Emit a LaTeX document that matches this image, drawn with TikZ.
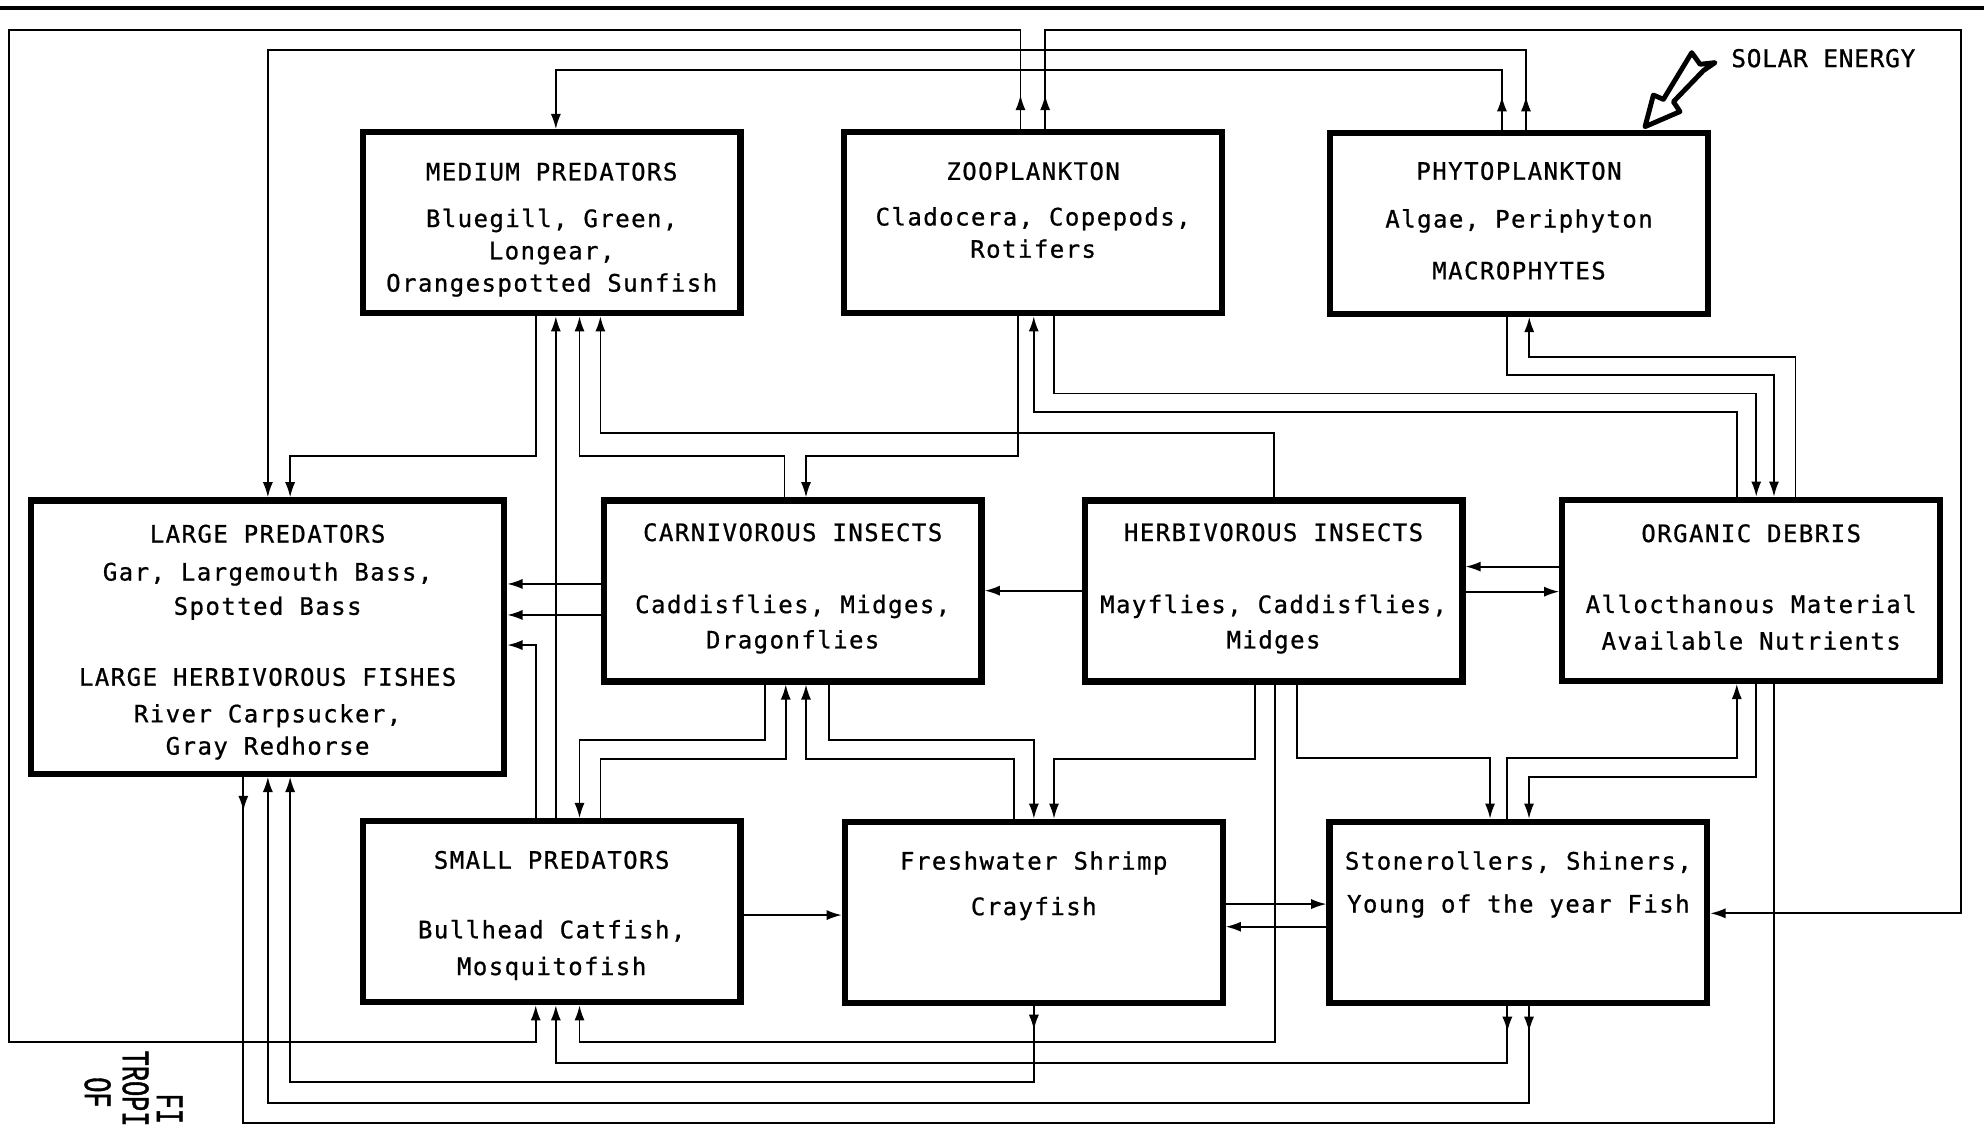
\documentclass[tikz,border=0pt]{standalone}
\usepackage{fontspec}
\usetikzlibrary{arrows.meta,decorations.markings}
\newfontfamily\lettering{DejaVu Sans Mono}[LetterSpace=6,FakeBold=0.8]
\newfontfamily\solarfont{DejaVu Sans Mono}[LetterSpace=3,FakeBold=0.8]
\newfontfamily\capfont{Liberation Mono}[FakeStretch=0.65,FakeBold=1]
\tikzset{>={Latex[length=2.4mm,width=1.6mm]}}
\tikzset{
  box/.style={draw, line width=2.8pt, minimum width=59.7mm, minimum height=28.6mm, inner sep=0pt},
  boxtxt/.style={align=center, inner sep=0pt, font=\lettering\fontsize{10.8}{14.5}\selectfont},
  flow/.style={line width=0.8pt},
  exitarrow/.style={postaction={decorate},
    decoration={markings, mark=at position #1 with {\arrow{>}}}},
  solartxt/.style={inner sep=0pt, font=\solarfont\fontsize{11}{12}\selectfont},
  captxt/.style={inner sep=0pt, rotate=-90, anchor=base west, font=\capfont\fontsize{17.5}{20}\selectfont}
}

\begin{document}
\begin{tikzpicture}[x=0.2mm, y=-0.2mm]
    \fill[white] (0,0) rectangle (1568,891);
    \useasboundingbox (0,0) rectangle (1568,891);
    \draw[line width=0.7mm] (0,6.5) -- (1568,6.5);

    \node[box] (mp) at (436,176) {};
    \node[box] (zp) at (816.5,176) {};
    \node[box] (pp) at (1200.5,176.5) {};
    \node[box, minimum width=74.8mm, minimum height=43.2mm] (lp) at (211.5,503.5) {};
    \node[box] (ci) at (626.5,467) {};
    \node[box] (hi) at (1006.5,467) {};
    \node[box] (od) at (1384,466.5) {};
    \node[box] (sp) at (436,720.5) {};
    \node[box] (fs) at (817,721) {};
    \node[box] (st) at (1200,721) {};

    \node[boxtxt] (mptxt) at (436,181.5) {MEDIUM PREDATORS\\[6.5pt]Bluegill, Green,\\Longear,\\Orangespotted Sunfish};
    \node[boxtxt] (zptxt) at (816.5,166) {ZOOPLANKTON\\[6pt]Cladocera, Copepods,\\Rotifers};
    \node[boxtxt] (pptxt) at (1200.5,174.5) {PHYTOPLANKTON\\[7pt]Algae, Periphyton\\[8.8pt]MACROPHYTES};
    \node[boxtxt] (lptxt) at (211.5,507.5) {LARGE PREDATORS\\[2.6pt]Gar, Largemouth Bass,\\[0.9pt]Spotted Bass\\[17.4pt]LARGE HERBIVOROUS FISHES\\[2pt]River Carpsucker,\\Gray Redhorse};
    \node[boxtxt] (citxt) at (626.5,465) {CARNIVOROUS INSECTS\\[17.9pt]Caddisflies, Midges,\\[1.4pt]Dragonflies};
    \node[boxtxt] (hitxt) at (1006.5,465) {HERBIVOROUS INSECTS\\[17.9pt]Mayflies, Caddisflies,\\[1.4pt]Midges};
    \node[boxtxt] (odtxt) at (1384,464) {ORGANIC DEBRIS\\[17.4pt]Allocthanous Material\\[2pt]Available Nutrients};
    \node[boxtxt] (sptxt) at (436,723.5) {SMALL PREDATORS\\[16.8pt]Bullhead Catfish,\\[2pt]Mosquitofish};
    \node[boxtxt] (fstxt) at (817,700) {Freshwater Shrimp\\[6pt]Crayfish};
    \node[boxtxt] (sttxt) at (1200,699) {Stonerollers, Shiners,\\[4.8pt]Young of the year Fish};

    % solar input
    \draw[line width=2.2pt, line join=round, fill=white] (1300.1,100.1) -- (1306.7,75.1) -- (1314.6,78.5)
        -- (1337,41.6) -- (1343.6,50.8) -- (1355.4,49.5) -- (1346.2,55.8) -- (1322.5,80.4) -- (1327.7,88.2) -- cycle;
    \node[solartxt] (solar) at (1441,46) {SOLAR ENERGY};

    \draw[flow, ->, exitarrow=5.4mm] (zp.north -| 806.5,0) |- (7,23.7) |- (423.4,823.5) -- (sp.south -| 423.4,0);
    \draw[flow, ->, exitarrow=5.4mm] (zp.north -| 826,0) |- (1550,23.7) |- (st.east |- 0,721.8);
    \draw[flow, ->, exitarrow=5.3mm] (pp.north -| 1206,0) |- (211.7,39.5) -- (lp.north -| 211.7,0);
    \draw[flow, ->, exitarrow=5.3mm] (pp.north -| 1187,0) |- (439.3,55.3) -- (mp.north -| 439.3,0);

    \draw[flow, ->] (mp.south -| 423.4,0) |- (229.3,360.4) -- (lp.north -| 229.3,0);
    \draw[flow, ->] (sp.north -| 439.3,0) -- (mp.south -| 439.3,0);
    \draw[flow, ->] (ci.north -| 620,0) |- (458,360.4) -- (mp.south -| 458,0);
    \draw[flow, ->] (hi.north -| 1007,0) |- (474.5,342.5) -- (mp.south -| 474.5,0);
    \draw[flow, ->] (zp.south -| 804.8,0) |- (637,360.4) -- (ci.north -| 637,0);
    \draw[flow, ->] (od.north -| 1372.6,0) |- (817,325.4) -- (zp.south -| 817,0);
    \draw[flow, ->] (zp.south -| 833,0) |- (1388,310.9) -- (od.north -| 1388,0);
    \draw[flow, ->] (pp.south -| 1191.3,0) |- (1402,296.4) -- (od.north -| 1402,0);
    \draw[flow, ->] (od.north -| 1419,0) |- (1208.6,281.9) -- (pp.south -| 1208.6,0);

    \draw[flow, ->] (ci.west |- 0,461.5) -- (lp.east |- 0,461.5);
    \draw[flow, ->] (ci.west |- 0,486) -- (lp.east |- 0,486);
    \draw[flow, ->] (sp.north -| 423.4,0) |- (lp.east |- 0,509.8);
    \draw[flow, ->] (hi.west |- 0,466.8) -- (ci.east |- 0,466.8);
    \draw[flow, ->] (od.west |- 0,447.8) -- (hi.east |- 0,447.8);
    \draw[flow, ->] (hi.east |- 0,467.6) -- (od.west |- 0,467.6);
    \draw[flow, ->] (sp.east |- 0,723.2) -- (fs.west |- 0,723.2);
    \draw[flow, ->] (fs.east |- 0,714.5) -- (st.west |- 0,714.5);
    \draw[flow, ->] (st.west |- 0,732.4) -- (fs.east |- 0,732.4);

    \draw[flow, ->] (ci.south -| 604.8,0) |- (458,584.9) -- (sp.north -| 458,0);
    \draw[flow, ->] (sp.north -| 474.5,0) |- (621,600) -- (ci.south -| 621,0);
    \draw[flow, ->] (fs.north -| 801.2,0) |- (637,600) -- (ci.south -| 637,0);
    \draw[flow, ->] (ci.south -| 654.9,0) |- (817.1,584.9) -- (fs.north -| 817.1,0);
    \draw[flow, ->] (hi.south -| 991.8,0) |- (833,600) -- (fs.north -| 833,0);
    \draw[flow, ->] (hi.south -| 1025,0) |- (1177.6,599.3) -- (st.north -| 1177.6,0);
    \draw[flow, ->] (st.north -| 1191.3,0) |- (1372.6,599.3) -- (od.south -| 1372.6,0);
    \draw[flow, ->] (od.south -| 1388,0) |- (1208.4,613.8) -- (st.north -| 1208.4,0);
    \draw[flow, ->] (hi.south -| 1007.7,0) |- (458,823.2) -- (sp.south -| 458,0);

    \draw[flow, ->, exitarrow=4.1mm] (st.south -| 1191.3,0) |- (439.3,840.4) -- (sp.south -| 439.3,0);
    \draw[flow, ->, exitarrow=3.8mm] (fs.south -| 817.1,0) |- (229.3,854.9) -- (lp.south -| 229.3,0);
    \draw[flow, ->, exitarrow=4.1mm] (st.south -| 1208.4,0) |- (211.7,872) -- (lp.south -| 211.7,0);
    \draw[flow, exitarrow=5.4mm] (lp.south -| 192.3,0) |- (1402,887.6) -- (od.south -| 1402,0);

    % caption fragments at the page edge
    \node[captxt] (capfig) at (124,864) {FI};
    \node[captxt] (captro) at (97,830) {TROPI};
    \node[captxt] (capof) at (67,851) {OF};
\end{tikzpicture}
\end{document}
